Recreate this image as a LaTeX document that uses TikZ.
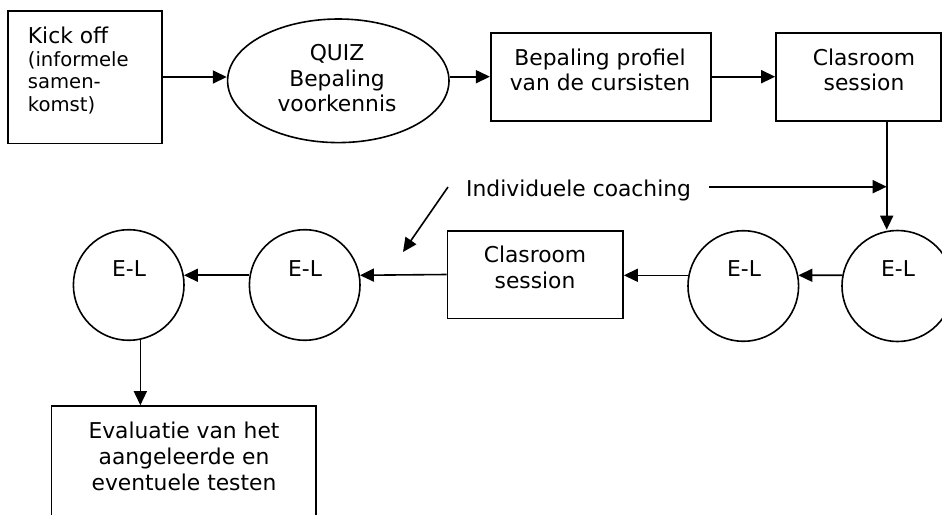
\documentclass[tikz,border=0pt]{standalone}
\usepackage{fontspec}
\setmainfont{DejaVu Sans}
\usetikzlibrary{arrows.meta,shapes.geometric}

\tikzset{
  frame/.style={draw=black, line width=1.6pt, inner sep=0pt, fill=white},
  boxnode/.style={frame, rectangle},
  ovalnode/.style={frame, ellipse},
  elnode/.style={frame, circle},
  % multi-line texts sit on the baseline of their last line
  txt/.style={inner sep=0pt, align=center, anchor=base,
    font=\fontsize{21.8}{25.7}\selectfont},
  arr/.style={draw=black, line width=1.6pt,
    -{Triangle[length=14pt,width=13pt]}},
}

\begin{document}
\begin{tikzpicture}[x=1pt, y=-1pt]
  \useasboundingbox (0,0) rectangle (942,514);
  \clip (0,0) rectangle (942,514);
  \fill[white] (0,0) rectangle (942,514);

  % shapes
  \node[boxnode, minimum width=154pt, minimum height=132.6pt] (kick) at (85,77) {};
  \node[ovalnode, minimum width=221.4pt, minimum height=123.6pt] (quiz) at (338.3,80.8) {};
  \node[boxnode, minimum width=220pt, minimum height=88pt] (profiel) at (600.7,76.7) {};
  \node[boxnode, minimum width=165pt, minimum height=88pt] (classA) at (858.5,76.7) {};
  \node[elnode, minimum size=111pt] (elA) at (897.5,286) {};
  \node[elnode, minimum size=110.6pt] (elB) at (743.3,286) {};
  \node[boxnode, minimum width=175.7pt, minimum height=87.6pt] (classB) at (535.2,274.5) {};
  \node[elnode, minimum size=110.6pt] (elC) at (304.7,285) {};
  \node[elnode, minimum size=110.6pt] (elD) at (128.7,285) {};
  \node[boxnode, minimum width=264.3pt, minimum height=160pt] (eval) at (183.8,486) {};

  % texts
  \node[txt, anchor=base west, align=left, font=\fontsize{19.6}{22.8}\selectfont]
    (kickT) at (27.7,111.7) {{\fontsize{21.8}{22.8}\selectfont Kick off}\\(informele\\samen-\\komst)};
  \node[txt] (quizT) at (337,111.7) {QUIZ\\Bepaling\\voorkennis};
  \node[txt, font=\fontsize{21.8}{25}\selectfont] (profielT) at (600,90.7) {Bepaling profiel\\van de cursisten};
  \node[txt, font=\fontsize{21.8}{25}\selectfont] (classAT) at (864,90.7) {Clasroom\\session};
  \node[txt, anchor=base west] (coach) at (466,196) {Individuele coaching};
  \node[txt] (elAT) at (898,276.5) {E-L};
  \node[txt] (elBT) at (744,276.5) {E-L};
  \node[txt] (classBT) at (535,288.3) {Clasroom\\session};
  \node[txt] (elCT) at (305,276.5) {E-L};
  \node[txt] (elDT) at (129,276.5) {E-L};
  \node[txt, font=\fontsize{21.8}{26}\selectfont] (evalT) at (184,490.3)
    {Evaluatie van het\\aangeleerde en\\eventuele testen};

  % helper points
  \coordinate (vx) at (886.7,0);
  \coordinate (cstart) at (709,186.7);
  \coordinate (dstart) at (448,187);
  \coordinate (dend) at (403,252);

  % connectors
  \draw[arr] (kick.east) -- (quiz.west |- kick.east);
  \draw[arr] (quiz.east |- profiel.west) -- (profiel.west);
  \draw[arr] (profiel.east) -- (classA.west);
  \draw[arr] (classA.south -| vx) -- (elA.north -| vx);
  \draw[arr] (cstart) -- (cstart -| vx);
  \draw[arr] (dstart) -- (dend);
  \draw[arr] (elA.169) -- (elB.11);
  \draw[arr] (elB.169) -- (classB.east |- elB.169);
  \draw[arr] (classB.west) -- (elC.10);
  \draw[arr] (elC.170) -- (elD.10);
  \draw[arr] (elD.-78) -- (elD.-78 |- eval.north);
\end{tikzpicture}
\end{document}
